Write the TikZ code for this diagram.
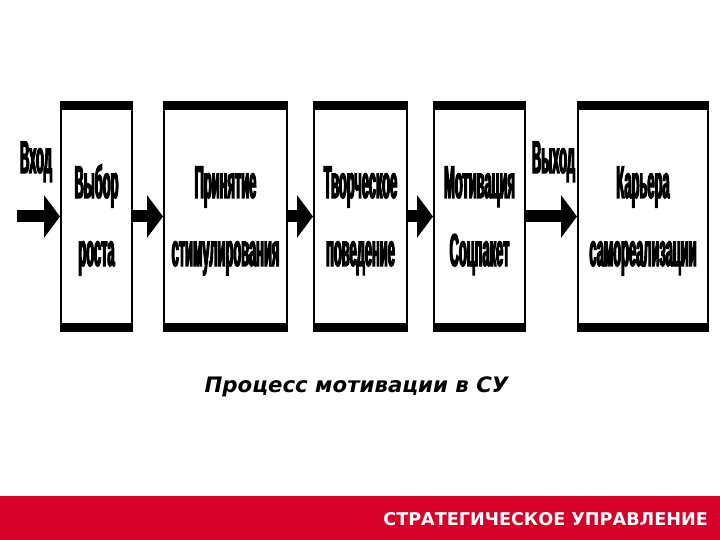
\documentclass[tikz,border=0pt]{standalone}
\usepackage{fontspec}
\usetikzlibrary{arrows.meta}
\newfontfamily\boxfont[FakeStretch=0.28,FakeBold=2.5]{Liberation Sans}
\newfontfamily\capfont{DejaVu Sans}
\definecolor{footred}{RGB}{214, 0, 40}

\begin{document}
\begin{tikzpicture}[x=1pt, y=-1pt,
    stage/.style={draw, line width=2pt, minimum height=229pt, inner sep=0pt,
      path picture={
        \fill (path picture bounding box.north west) rectangle ([yshift=-8pt]path picture bounding box.north east);
        \fill (path picture bounding box.south west) rectangle ([yshift=8pt]path picture bounding box.south east);
      }},
    lbl/.style={anchor=base, inner sep=0pt, font=\boxfont\bfseries\fontsize{46}{46}\selectfont},
    blockarrow/.style={line width=12pt, -{Triangle[width=42pt, length=16pt]}}]
    \useasboundingbox (0,0) rectangle (720,540);
    % stages
    \node[stage, minimum width=71pt]  (b1) at (96.5,216.5) {};
    \node[stage, minimum width=123pt] (b2) at (225.5,216.5) {};
    \node[stage, minimum width=93pt]  (b3) at (360.5,216.5) {};
    \node[stage, minimum width=91pt]  (b4) at (479.5,216.5) {};
    \node[stage, minimum width=130pt] (b5) at (643,216.5) {};
    % stage texts
    \foreach \a/\b [count=\i] in {Выбор/роста, Принятие/стимулирования,
        Творческое/поведение, Мотивация/Соцпакет, Карьера/самореализации}{
      \node[lbl] (top\i) at (b\i.center |- 0,198) {\a};
      \node[lbl] (bot\i) at (b\i.center |- 0,266) {\b};
    }
    % input & output
    \node[lbl] (vhod)  at (36,173)    {Вход};
    \node[lbl] (vyhod) at (553.5,173) {Выход};
    \coordinate (in) at (17,216.5);
    \draw[blockarrow] (in) -- (b1);
    \foreach \i [evaluate=\i as \j using int(\i+1)] in {1,...,4}
      \draw[blockarrow] (b\i) -- (b\j);
    % caption
    \node[anchor=base, inner sep=0pt, font=\capfont\bfseries\itshape\fontsize{21.3}{21.3}\selectfont]
      (caption) at (356.5,392) {Процесс мотивации в СУ};
    % footer
    \fill[footred] (0,496) rectangle (720,540);
    \node[anchor=base east, inner sep=0pt, text=white, font=\capfont\bfseries\fontsize{17.6}{17.6}\selectfont]
      (footer) at (708,525) {СТРАТЕГИЧЕСКОЕ УПРАВЛЕНИЕ};
\end{tikzpicture}
\end{document}
